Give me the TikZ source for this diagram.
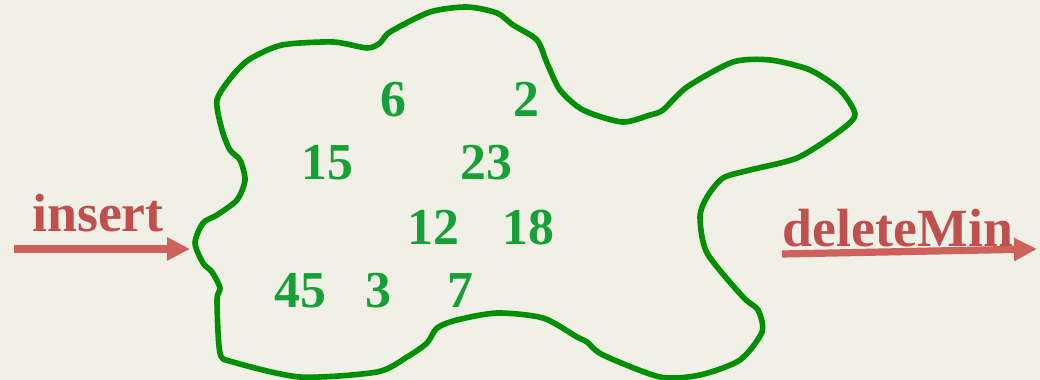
\documentclass[tikz,border=0pt]{standalone}
\usepackage{fontspec}
\setmainfont{Liberation Serif}
\usepackage{tikz}
\usetikzlibrary{arrows.meta,positioning}
\definecolor{cBack}{HTML}{F0F0E7}
\definecolor{cBlob}{HTML}{008F00}
\definecolor{cNum} {HTML}{16A035}
\definecolor{cTxt} {HTML}{C0504D}
\definecolor{cArr} {HTML}{CD625C}
\tikzset{
  blob/.style ={draw=cBlob,line width=2.8bp,line join=round},
  num/.style  ={font=\fontsize{26}{30}\selectfont\bfseries,text=cNum,anchor=base,inner sep=0pt},
  lbl/.style  ={font=\fontsize{27}{31}\selectfont\bfseries,text=cTxt,anchor=base,inner sep=0pt},
  sig/.style  ={-{Triangle[length=11.5bp,width=11bp]},draw=cArr,line width=3.6bp},
}

\begin{document}
\begin{tikzpicture}[x=0.5bp,y=-0.5bp,every node/.style={outer sep=0pt}]
\fill[cBack] (0,0) rectangle (1040,380);
\useasboundingbox (0,0) rectangle (1040,380);

% ---- the heap as a blob -------------------------------------------------
\draw[blob] plot[smooth cycle,tension=0.45] coordinates {
  (217,100) (233,75) (250,59) (282,45) (333,42) (367,48) (380,43) (390,32)
  (430,12) (467,7) (497,13) (513,25) (537,40) (547,63) (560,90) (583,110)
  (622,122) (650,115) (663,110) (687,87) (733,62) (770,60) (810,70) (840,90)
  (855,115) (837,133) (797,158) (750,170) (723,178) (707,197) (700,217)
  (707,253) (743,297) (758,310) (762,332) (740,360) (700,375) (660,377)
  (603,355) (587,342) (577,337) (543,318) (497,313) (457,320) (437,328)
  (427,343) (407,357) (377,372) (300,377) (233,362) (220,353) (217,300)
  (220,288) (212,272) (203,263) (195,243) (203,223) (217,215) (237,200)
  (245,180) (240,160) (230,150) (222,130)};

% ---- keys ---------------------------------------------------------------
\foreach \n/\x/\y/\v in {k6/393/117/6, k2/526/117/2, k15/327/180/15, k23/486/180/23,
  k12/433/245/12, k18/528/245/18, k45/300/308/45, k3/378/308/3, k7/460/308/7}
{
  \node[num] (\n) at (\x,\y) {\v};
}

% ---- operations ---------------------------------------------------------
\node[lbl] (ins) at (98,232) {insert};
\coordinate (insS) at (14,249);
\coordinate (insE) at (190,249);
\draw[sig] (insS) -- (insE);

\node[lbl] (del) at (898,247) {deleteMin};
\coordinate (delS) at (782,254);
\coordinate (delE) at (1037,249);
\draw[sig] (delS) -- (delE);
\end{tikzpicture}
\end{document}
